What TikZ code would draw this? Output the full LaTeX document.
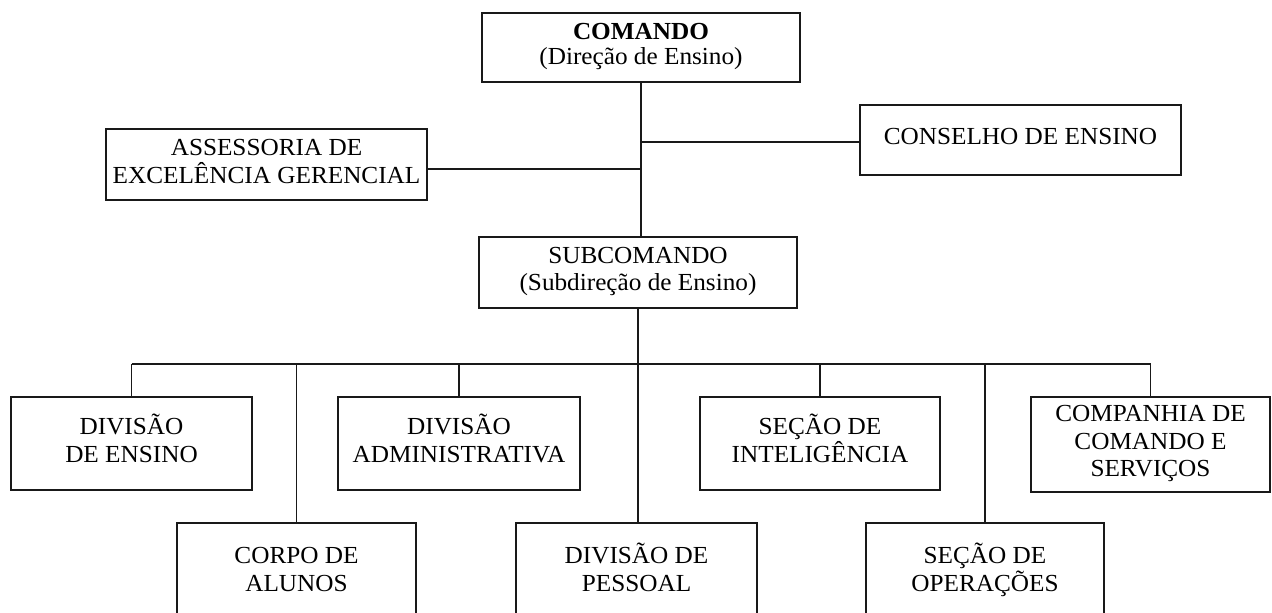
\documentclass[tikz,border=0pt]{standalone}
\usepackage{fontspec}
\setmainfont[FakeStretch=1.03]{Liberation Serif}
\newcommand{\tst}{\rule{0pt}{22.5pt}}
\begin{document}
\begin{tikzpicture}[x=1pt,y=-1pt,
  box/.style={draw=black!90, line width=1.9pt, align=center, inner sep=0pt,
    execute at end node={\rule[-13pt]{0pt}{13pt}}},
  f28/.style={font=\fontsize{24.5}{28.5}\selectfont},
  f27/.style={font=\fontsize{24.5}{27.3}\selectfont},
  f25/.style={font=\fontsize{24.5}{25}\selectfont},
  link/.style={draw=black!90, line width=1.9pt}]
\useasboundingbox (0,0) rectangle (1272,613);
% top level
\node[box,f25,minimum width=318pt,minimum height=69pt] (cmd) at (641,47.5) {\tst\textbf{COMANDO}\\(Direção de Ensino)};
\node[box,f28,minimum width=321pt,minimum height=71pt] (ass) at (266.5,164.5) {\tst ASSESSORIA DE\\EXCELÊNCIA GERENCIAL};
\node[box,f28,minimum width=321pt,minimum height=70pt] (con) at (1020.5,140) {\tst CONSELHO DE ENSINO};
\node[box,f27,minimum width=318pt,minimum height=71pt] (sub) at (638,272.5) {\tst SUBCOMANDO\\(Subdireção de Ensino)};
% upper row
\node[box,f28,minimum width=241pt,minimum height=93pt] (ens) at (131.5,443.5) {\tst DIVISÃO\\DE ENSINO};
\node[box,f28,minimum width=242pt,minimum height=93pt] (adm) at (459,443.5) {\tst DIVISÃO\\ADMINISTRATIVA};
\node[box,f28,minimum width=240pt,minimum height=93pt] (int) at (820,443.5) {\tst SEÇÃO DE\\INTELIGÊNCIA};
\node[box,f27,minimum width=239pt,minimum height=95pt] (cmp) at (1150.5,444.5) {\tst COMPANHIA DE\\COMANDO E\\SERVIÇOS};
% lower row (cut by the page edge)
\node[box,f28,minimum width=239pt,minimum height=99pt] (cor) at (296.5,572.5) {\tst CORPO DE\\ALUNOS};
\node[box,f28,minimum width=241pt,minimum height=99pt] (pes) at (636.5,572.5) {\tst DIVISÃO DE\\PESSOAL};
\node[box,f28,minimum width=238pt,minimum height=99pt] (ope) at (985,572.5) {\tst SEÇÃO DE\\OPERAÇÕES};
% connectors
\coordinate (conj) at ([yshift=-2pt]con.west);
\coordinate (assj) at ([yshift=-4.5pt]ass.east);
\coordinate (bus) at (0,364);
\draw[link] (cmd.south) -- (cmd.south |- sub.north);
\draw[link] (conj) -- (conj -| cmd.south);
\draw[link] (assj) -- (assj -| cmd.south);
\draw[link] (sub.south) -- (sub.south |- pes.north);
\draw[link] (ens.north |- bus) -- (cmp.north |- bus);
\foreach \n in {ens,cor,adm,int,ope,cmp}
  \draw[link] (\n.north) -- (\n.north |- bus);
\end{tikzpicture}
\end{document}
